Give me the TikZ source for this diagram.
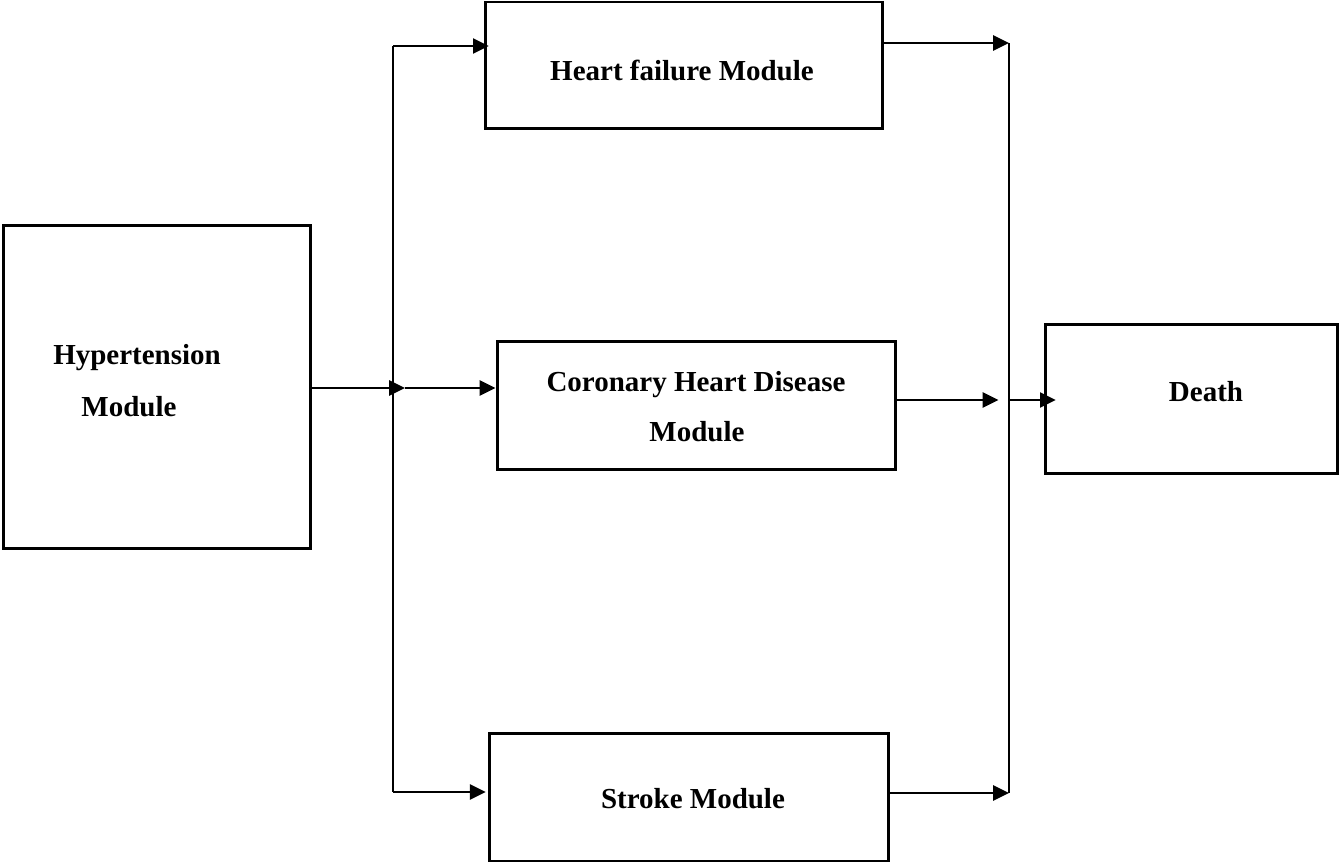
\documentclass[tikz,border=0pt]{standalone}
\usepackage{fontspec}
\setmainfont{Liberation Serif}
\usetikzlibrary{arrows.meta}
\tikzset{
	module/.style={draw, line width=1.7pt, inner sep=0pt},
	flow/.style={line width=1.5pt, -{Triangle[length=9pt,width=8.5pt]}},
	lbl/.style={font=\fontsize{16.5}{20}\selectfont\bfseries, align=center}
}
\begin{document}
\begin{tikzpicture}[x=0.02cm, y=-0.02cm]
			\useasboundingbox (0,0) rectangle (1341,864);
			\node[module, minimum width=6.16cm, minimum height=6.48cm] (hyp) at (157,387) {};
			\node[module, minimum width=7.96cm, minimum height=2.54cm] (hf) at (684,65.5) {};
			\node[module, minimum width=7.98cm, minimum height=2.58cm] (chd) at (696.5,405.5) {};
			\node[module, minimum width=8cm, minimum height=2.56cm] (stroke) at (689,797) {};
			\node[module, minimum width=5.86cm, minimum height=3cm] (death) at (1191.5,399) {};
			\node[lbl] (hyptxt) at (137,358) {Hypertension};
			\node[lbl] (hyptxt2) at (129,407) {Module};
			\node[lbl] (hftxt) at (682,70) {Heart failure Module};
			\node[lbl] (chdtxt) at (696,385) {Coronary Heart Disease};
			\node[lbl] (chdtxt2) at (697,432) {Module};
			\node[lbl] (stroketxt) at (693,799) {Stroke Module};
			\node[lbl] (deathtxt) at (1206,392) {Death};
			\coordinate (tl) at (393,46);
			\coordinate (bl) at (393,792);
			\coordinate (jl) at (405,388);
			\coordinate (tr) at (1009,43);
			\coordinate (br) at (1009,793);
			\coordinate (jr) at (1009,400);
			\draw[line width=1.5pt] (tl) -- (bl);
			\draw[line width=1.5pt] (tr) -- (br);
			\draw[flow] (hyp.east |- jl) -- (jl);
			\draw[flow] (jl) -- (chd.west |- jl);
			\draw[flow] (tl) -- ([xshift=3]hf.west |- tl);
			\draw[flow] (bl) -- ([xshift=-1]stroke.west |- bl);
			\draw[flow] (hf.east |- tr) -- (tr);
			\draw[flow] (chd.east |- jr) -- ([xshift=-6]jr);
			\draw[flow] (stroke.east |- br) -- (br);
			\draw[flow] (jr) -- ([xshift=7]death.west |- jr);
		\end{tikzpicture}
\end{document}
